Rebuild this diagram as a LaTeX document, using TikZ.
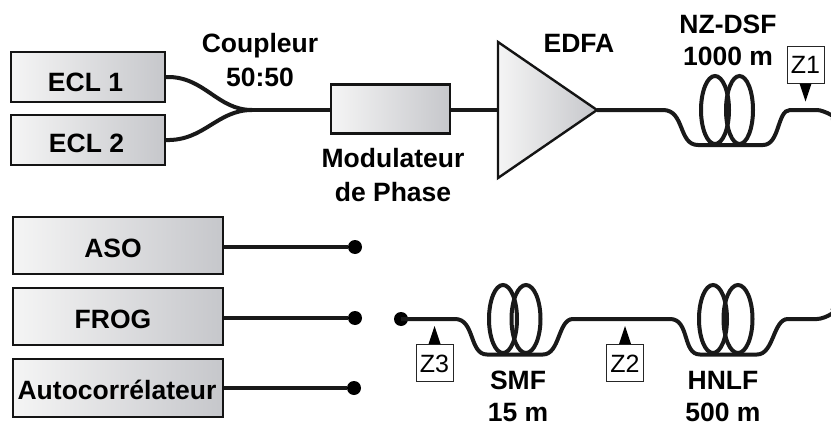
\documentclass[tikz,border=0pt]{standalone}
\usepackage{fontspec}
\setmainfont{Liberation Sans}
\definecolor{shadeend}{RGB}{198,199,203}
\begin{document}
\begin{tikzpicture}[x=1pt,y=-1pt,
  devicebox/.style={draw=black!92,line width=2.4pt,left color=black!4,right color=shadeend,inner sep=0pt},
  lbl/.style={inner sep=0pt,font=\fontsize{26.5}{26.5}\selectfont\bfseries,text height=19pt,text depth=0pt,align=center},
  zbox/.style={draw=black!85,line width=1pt,fill=white,inner sep=0pt,minimum width=37pt,minimum height=37pt,font=\fontsize{25}{25}\selectfont,text height=18pt,text depth=0pt},
  fibre/.style={draw=black!90,line width=4pt,line cap=round},
  port/.style={circle,fill=black,inner sep=0pt,minimum size=14pt},
  mark tip/.style={fill=black,draw=none}
]
\useasboundingbox (0,0) rectangle (831,423);

% source and instrument boxes
\node[devicebox,minimum width=154pt,minimum height=50pt] (ecla) at (88,77) {};
\node[devicebox,minimum width=154pt,minimum height=50pt] (eclb) at (88,140) {};
\node[devicebox,minimum width=119pt,minimum height=49pt] (mod) at (390.5,109) {};
\node[devicebox,minimum width=210pt,minimum height=57pt] (aso) at (118,245.5) {};
\node[devicebox,minimum width=210pt,minimum height=57pt] (frog) at (118,316.5) {};
\node[devicebox,minimum width=210pt,minimum height=58pt] (auto) at (118,388) {};
\node[lbl] (tecla) at (85.5,81.5) {ECL 1};
\node[lbl] (teclb) at (86.5,142.5) {ECL 2};
\node[lbl] (taso) at (113,248) {ASO};
\node[lbl] (tfrog) at (113,319) {FROG};
\node[lbl] (tauto) at (117,390) {Autocorrélateur};

% coupler
\coordinate (join) at (252,110);
\draw[fibre,line cap=butt] (ecla.east) .. controls +(38,-1) and +(-35,0) .. (join);
\draw[fibre,line cap=butt] (eclb.east) .. controls +(38,1) and +(-35,0) .. (join);
\draw[fibre,line cap=butt] (join) -- (mod.west|-join);

% amplifier
\coordinate (ampa) at (498,42);
\coordinate (ampb) at (498,178);
\coordinate (ampc) at (597,110);
\coordinate (ampin) at (498,110);
\draw[fibre,line cap=butt] (mod.east|-ampin) -- (ampin);
\draw[draw=black!92,line width=2.4pt,line join=miter,left color=black!4,right color=shadeend] (ampa) -- (ampc) -- (ampb) -- cycle;

% upper fibre
\coordinate (ua) at (663,110);
\coordinate (ub) at (698,145);
\coordinate (uc) at (763,145);
\coordinate (ud) at (790,110);
\coordinate (ue) at (817,110);
\coordinate (uf) at (831,118);
\coordinate (uc1) at (715,110);
\coordinate (uc2) at (739.5,110);
\draw[fibre,line cap=butt] (ampc) -- (ua) .. controls +(22,0) and +(-20,0) .. (ub) -- (uc)
  .. controls +(17,0) and +(-13,0) .. (ud) -- (ue) .. controls +(7,0) and +(11,2) .. (uf);
\draw[fibre] (uc1) ellipse [x radius=14, y radius=34];
\draw[fibre] (uc2) ellipse [x radius=13.5, y radius=34];

% lower fibre
\node[port] (pa) at (355,247) {};
\node[port] (pb) at (355,318) {};
\node[port] (pc) at (354,388) {};
\node[port] (pd) at (401,319) {};
\draw[fibre,line cap=butt] (aso.east|-pa) -- (pa);
\draw[fibre,line cap=butt] (frog.east|-pb) -- (pb);
\draw[fibre,line cap=butt] (auto.east) -- (pc);
\coordinate (la) at (455,319);
\coordinate (lb) at (487,354.5);
\coordinate (lc) at (543,354.5);
\coordinate (ld) at (573,319);
\coordinate (le) at (670,319);
\coordinate (lf) at (700,354.5);
\coordinate (lg) at (757,354.5);
\coordinate (lh) at (788,319);
\coordinate (li) at (817,319);
\coordinate (lj) at (831,308);
\coordinate (lc1) at (503,319);
\coordinate (lc2) at (526,319);
\coordinate (lc3) at (713,319);
\coordinate (lc4) at (738,319);
\draw[fibre,line cap=butt] (pd.center) -- (la) .. controls +(20,0) and +(-18,0) .. (lb) -- (lc)
  .. controls +(17,0) and +(-15,0) .. (ld) -- (le) .. controls +(20,0) and +(-18,0) .. (lf) -- (lg)
  .. controls +(17,0) and +(-15,0) .. (lh) -- (li) .. controls +(8,0) and +(12,1) .. (lj);
\draw[fibre] (lc1) ellipse [x radius=14, y radius=34];
\draw[fibre] (lc2) ellipse [x radius=14.5, y radius=34];
\draw[fibre] (lc3) ellipse [x radius=14, y radius=34];
\draw[fibre] (lc4) ellipse [x radius=14.5, y radius=34];

% probe markers
\node[zbox] (zu) at (805.5,64.5) {Z1};
\node[zbox] (zv) at (625,363) {Z2};
\node[zbox] (zw) at (434.5,363) {Z3};
\fill[mark tip] (zu.south)+(-6,0) -- +(6,0) -- +(0,18) -- cycle;
\fill[mark tip] (zv.north)+(-6,0) -- +(6,0) -- +(0,-18) -- cycle;
\fill[mark tip] (zw.north)+(-6,0) -- +(6,0) -- +(0,-18) -- cycle;

% captions
\node[lbl] (coupl) at (260,43) {Coupleur};
\node[lbl] (couplb) at (260,76.5) {50:50};
\node[lbl] (moda) at (393,158) {Modulateur};
\node[lbl] (modb) at (393,192) {de Phase};
\node[lbl] (edfa) at (579,43) {EDFA};
\node[lbl] (nza) at (728,24) {NZ-DSF};
\node[lbl] (nzb) at (728,56) {1000 m};
\node[lbl] (smfa) at (518,380) {SMF};
\node[lbl] (smfb) at (518,411.5) {15 m};
\node[lbl] (hna) at (723,380) {HNLF};
\node[lbl] (hnb) at (723,411.5) {500 m};
\end{tikzpicture}
\end{document}
